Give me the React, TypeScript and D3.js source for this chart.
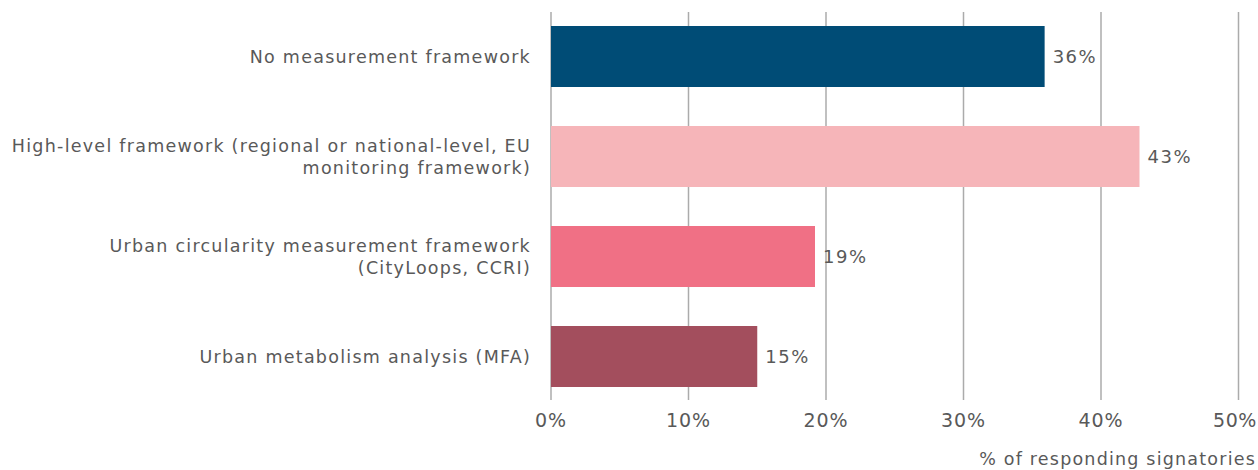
import React from "react";
import * as d3 from "d3";

const categories: string[][] = [
  ["No measurement framework"],
  ["High-level framework (regional or national-level, EU", "monitoring framework)"],
  ["Urban circularity measurement framework", "(CityLoops, CCRI)"],
  ["Urban metabolism analysis (MFA)"],
];
const values: number[] = [35.9, 42.8, 19.2, 15.0];
const valueLabels: string[] = ["36%", "43%", "19%", "15%"];
const colors: string[] = ["#004c76", "#f6b5b9", "#f07085", "#a34e5d"];
const ticks: number[] = [0, 10, 20, 30, 40, 50];
const axisTitle = "% of responding signatories";

const W = 1258;
const H = 470;
const x0 = 551;
const x1 = 1238.5;
const gridTop = 12;
const gridBottom = 400;

export default function App() {
  const x = d3.scaleLinear().domain([0, 50]).range([x0, x1]);
  const y = d3
    .scaleBand<number>()
    .domain(d3.range(categories.length))
    .range([6.5, 406.5])
    .paddingInner(0.39)
    .paddingOuter(0.195);
  const font = "'DejaVu Sans', sans-serif";
  return (
    <svg
      width={W}
      height={H}
      style={{ position: "absolute", left: 0, top: 0, background: "#fff" }}
    >
      {ticks.map((t) => (
        <line
          key={"g" + t}
          x1={x(t)}
          x2={x(t)}
          y1={gridTop}
          y2={gridBottom}
          stroke="#ababab"
          strokeWidth={1.5}
        />
      ))}
      {values.map((v, i) => (
        <rect
          key={"b" + i}
          x={x(0)}
          y={y(i)!}
          width={x(v) - x(0)}
          height={y.bandwidth()}
          fill={colors[i]}
        />
      ))}
      {values.map((v, i) => (
        <text
          key={"v" + i}
          x={x(v) + 8}
          y={y(i)! + y.bandwidth() / 2}
          dy="0.35em"
          fontFamily={font}
          fontSize={18}
          letterSpacing={1.5}
          fill="#595959"
        >
          {valueLabels[i]}
        </text>
      ))}
      {categories.map((lines, i) => {
        const cy = y(i)! + y.bandwidth() / 2;
        const lh = 22;
        const start = cy - ((lines.length - 1) * lh) / 2;
        return (
          <text
            key={"c" + i}
            x={531}
            textAnchor="end"
            fontFamily={font}
            fontSize={17.5}
            letterSpacing={1.25}
            fill="#595959"
          >
            {lines.map((l, j) => (
              <tspan key={j} x={531} y={start + j * lh} dy="0.35em">
                {l}
              </tspan>
            ))}
          </text>
        );
      })}
      {ticks.map((t, i) => {
        const last = i === ticks.length - 1;
        return (
          <text
            key={"t" + t}
            x={last ? W - 1 : x(t)}
            y={420}
            dy="0.35em"
            textAnchor={last ? "end" : "middle"}
            fontFamily={font}
            fontSize={19}
            letterSpacing={last ? 0.6 : 1}
            fill="#595959"
          >
            {t + "%"}
          </text>
        );
      })}
      <text
        x={1256}
        y={459}
        dy="0.35em"
        textAnchor="end"
        fontFamily={font}
        fontSize={17.5}
        letterSpacing={1.2}
        fill="#595959"
      >
        {axisTitle}
      </text>
    </svg>
  );
}
